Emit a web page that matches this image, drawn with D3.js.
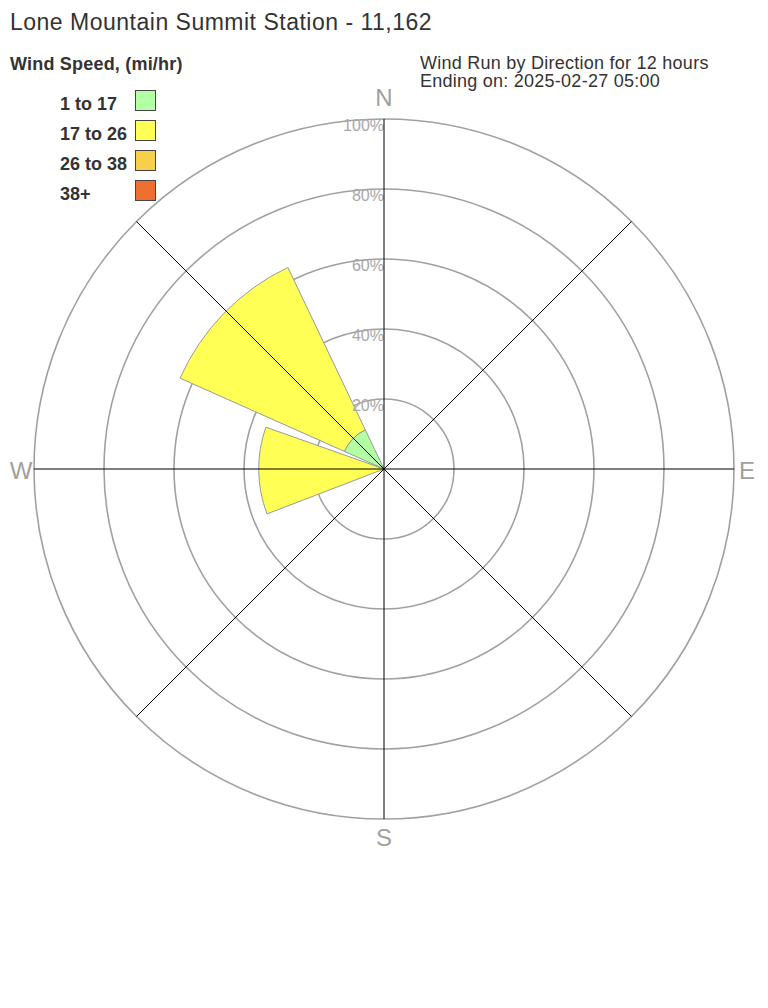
<!DOCTYPE html>
<html><head><meta charset="utf-8">
<script src="https://cdn.jsdelivr.net/npm/d3@7"></script>
<style>body{margin:0;background:#fff;} svg{display:block;font-family:"Liberation Sans",Arial,sans-serif;}</style>
</head><body>
<svg id="c" width="768" height="1008"></svg>
<script>
const speedBins = ["1 to 17", "17 to 26", "26 to 38", "38+"];
const binColors = ["#b3ffa3", "#ffff55", "#f7cf4a", "#ee7030"];
const directions = ["N","NE","E","SE","S","SW","W","NW"];
const dirAngles = [0,45,90,135,180,225,270,315];
// percent of wind run per direction per speed bin
const bin1 = [0,0,0,0,0,0,0,12.4];
const bin2 = [0,0,0,0,0,0,35.8,51.4];
const bin3 = [0,0,0,0,0,0,0,0];
const bin4 = [0,0,0,0,0,0,0,0];
const ringTicks = [20,40,60,80,100];
const compassLabels = ["N","E","S","W"];

const svg = d3.select("#c");
const cx = 384, cy = 469;
const r = d3.scaleLinear().domain([0,100]).range([0,350]);
const g = svg.append("g").attr("transform",`translate(${cx},${cy})`);

// rings
g.selectAll("circle.ring").data(ringTicks).join("circle")
  .attr("r", d=>r(d)).attr("fill","none").attr("stroke","#a0a0a0").attr("stroke-width",1.6);

// wedges
const bins = [bin1,bin2,bin3,bin4];
const arc = d3.arc();
const half = 20.25*Math.PI/180;
const offset = -0.75;
directions.forEach((dir,i)=>{
  let cum = 0;
  bins.forEach((b,k)=>{
    const v = b[i];
    if(v>0){
      const a = (dirAngles[i]+offset)*Math.PI/180;
      g.append("path").attr("d", arc({innerRadius:r(cum), outerRadius:r(cum+v), startAngle:a-half, endAngle:a+half}))
        .attr("fill", binColors[k]).attr("stroke","#999").attr("stroke-width",1);
      cum += v;
    }
  });
});

// ring labels
g.selectAll("text.rl").data(ringTicks).join("text")
  .attr("x", 0).attr("y", d=>-r(d)+12).attr("text-anchor","end")
  .attr("font-size",16).attr("fill","#a8a8a8").text(d=>d+"%");

// axis lines
g.selectAll("line.ax").data(dirAngles).join("line")
  .attr("x1",0).attr("y1",0)
  .attr("x2", d=>r(100)*Math.sin(d*Math.PI/180))
  .attr("y2", d=>-r(100)*Math.cos(d*Math.PI/180))
  .attr("stroke","#000").attr("stroke-width",1);

// compass labels
const lp = [[0,-363],[363,10],[0,377],[-363,10]];
compassLabels.forEach((t,i)=>{
  g.append("text").attr("x",lp[i][0]).attr("y",lp[i][1]).attr("text-anchor","middle")
   .attr("font-size",24).attr("fill","#a0a0a0").text(t);
});

// titles
svg.append("text").attr("x",10).attr("y",30).attr("font-size",23).attr("letter-spacing",0.5).attr("fill","#333").text("Lone Mountain Summit Station - 11,162");
svg.append("text").attr("x",10).attr("y",70).attr("font-size",18).attr("letter-spacing",0.2).attr("font-weight","bold").attr("fill","#333").text("Wind Speed, (mi/hr)");
svg.append("text").attr("x",420).attr("y",69).attr("font-size",18).attr("letter-spacing",0.25).attr("fill","#333").text("Wind Run by Direction for 12 hours");
svg.append("text").attr("x",420).attr("y",87).attr("font-size",18).attr("letter-spacing",0.25).attr("fill","#333").text("Ending on: 2025-02-27 05:00");

// legend
speedBins.forEach((s,i)=>{
  const y = 90 + i*30;
  svg.append("text").attr("x",60).attr("y",y+20).attr("font-size",18).attr("font-weight","bold").attr("fill","#333").text(s);
  svg.append("rect").attr("x",135.5).attr("y",y+0.5).attr("width",20).attr("height",20)
    .attr("fill",binColors[i]).attr("stroke","#444").attr("stroke-width",1);
});
</script>
</body></html>
